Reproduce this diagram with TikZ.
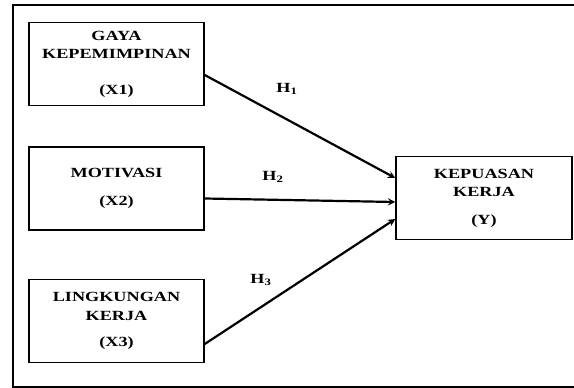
\documentclass[tikz,border=0pt]{standalone}
\usepackage{fontspec}
\newfontfamily\varfont[FakeStretch = 1.3]{Liberation Serif}
\tikzset{
	varbox/.style = { draw, line width = 1.5pt, minimum width = 175pt, minimum height = 83pt, align = center, inner sep = 0pt, font = \varfont\fontsize{14}{18.5}\selectfont\bfseries },
	hyp/.style = { ->, > = stealth, line width = 2.2pt },
	hlabel/.style = { font = \varfont\fontsize{14}{16}\selectfont\bfseries }
}
\begin{document}
\begin{tikzpicture}[ x = 1pt, y = -1pt ]
	\useasboundingbox ( 0, 0 ) rectangle ( 574, 388 );
	\draw[ line width = 1.5pt ] ( 13, 5 ) rectangle ( 600, 387 );
	\node[varbox] (x1) at ( 116.5, 64 ) {GAYA\\KEPEMIMPINAN\\[17pt](X1)};
	\node[varbox] (x2) at ( 116.5, 188.5 ) {MOTIVASI\\[10pt](X2)};
	\node[varbox] (x3) at ( 116.5, 321 ) {LINGKUNGAN\\KERJA\\[8pt](X3)};
	\node[varbox, minimum width = 176pt] (y) at ( 484, 198 ) {KEPUASAN\\KERJA\\[9pt](Y)};
	\draw[hyp] ([yshift = -11pt]x1.east) -- ([yshift = 20pt]y.west);
	\draw[hyp] ([yshift = -10pt]x2.east) -- ([yshift = -4pt]y.west);
	\draw[hyp] ([yshift = -23pt]x3.east) -- ([yshift = -21pt]y.west);
	\node[hlabel] (h1) at ( 287, 89 ) {H\textsubscript{1}};
	\node[hlabel] (h2) at ( 273, 177 ) {H\textsubscript{2}};
	\node[hlabel] (h3) at ( 261, 280 ) {H\textsubscript{3}};
\end{tikzpicture}
\end{document}
